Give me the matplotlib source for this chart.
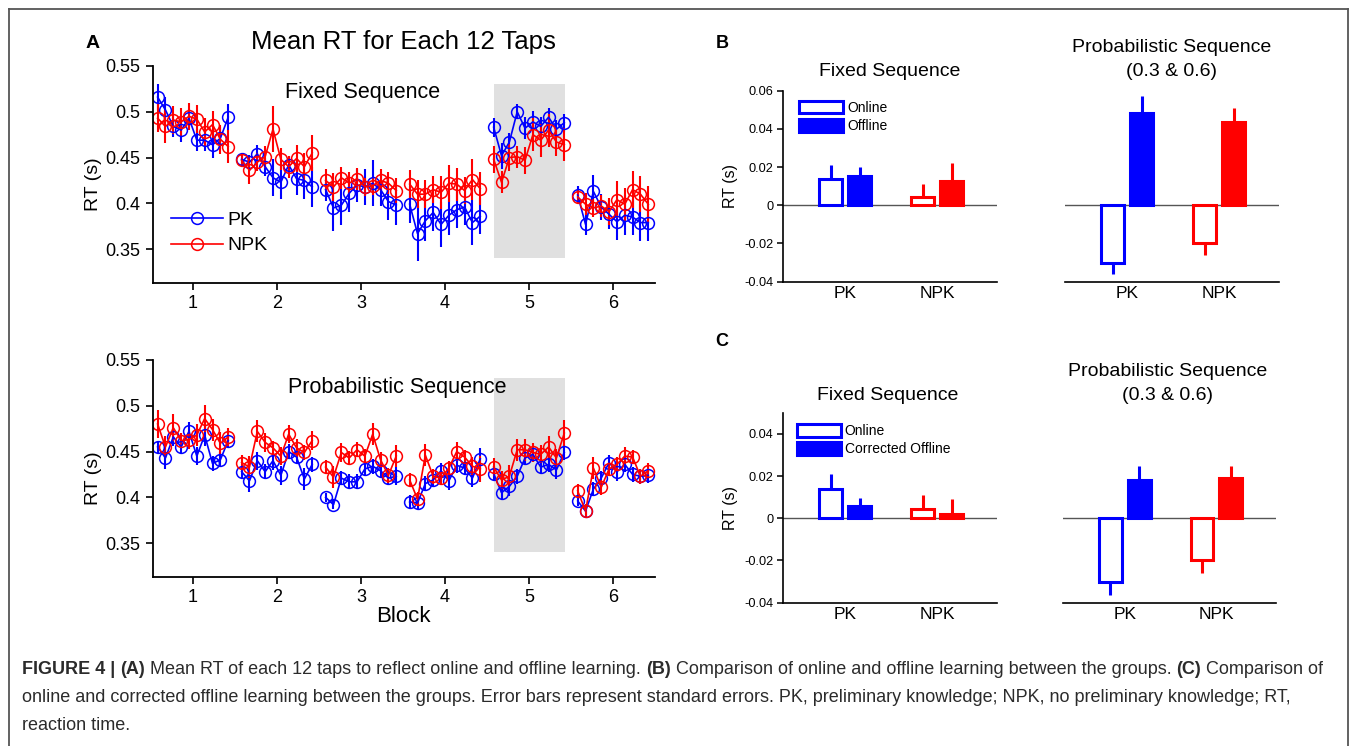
import numpy as np
import matplotlib.pyplot as plt
from matplotlib.lines import Line2D
from matplotlib.patches import Patch

plt.rcParams['font.family'] = ['Liberation Sans', 'DejaVu Sans']

# ---- data: panel A (mean RT per 12 taps, 10 points per block) ----
blocks = [1, 2, 3, 4, 5, 6]
taps_per_block = 10

fixed_pk = [0.516, 0.502, 0.484, 0.480, 0.493, 0.469, 0.469, 0.464, 0.471, 0.494,
            0.448, 0.445, 0.454, 0.440, 0.428, 0.423, 0.442, 0.427, 0.425, 0.418,
            0.415, 0.395, 0.398, 0.411, 0.420, 0.418, 0.422, 0.415, 0.402, 0.398,
            0.399, 0.367, 0.381, 0.390, 0.377, 0.387, 0.393, 0.396, 0.379, 0.386,
            0.483, 0.452, 0.467, 0.500, 0.482, 0.489, 0.484, 0.494, 0.481, 0.488,
            0.409, 0.377, 0.413, 0.396, 0.388, 0.380, 0.387, 0.385, 0.379, 0.379]
fixed_pk_se = [0.014, 0.014, 0.012, 0.013, 0.010, 0.012, 0.012, 0.014, 0.012, 0.014,
               0.006, 0.008, 0.010, 0.010, 0.020, 0.018, 0.010, 0.018, 0.020, 0.022,
               0.012, 0.025, 0.022, 0.020, 0.018, 0.020, 0.025, 0.018, 0.020, 0.022,
               0.020, 0.030, 0.022, 0.020, 0.025, 0.022, 0.020, 0.020, 0.025, 0.020,
               0.010, 0.014, 0.010, 0.008, 0.012, 0.012, 0.010, 0.010, 0.010, 0.010,
               0.010, 0.012, 0.018, 0.014, 0.016, 0.020, 0.022, 0.020, 0.020, 0.020]
fixed_npk = [0.493, 0.484, 0.491, 0.489, 0.495, 0.492, 0.478, 0.486, 0.470, 0.462,
             0.447, 0.436, 0.445, 0.451, 0.481, 0.448, 0.440, 0.449, 0.440, 0.455,
             0.425, 0.418, 0.428, 0.422, 0.427, 0.418, 0.419, 0.425, 0.422, 0.414,
             0.421, 0.410, 0.410, 0.415, 0.412, 0.422, 0.421, 0.414, 0.426, 0.416,
             0.448, 0.423, 0.450, 0.451, 0.447, 0.475, 0.469, 0.480, 0.467, 0.464,
             0.407, 0.399, 0.395, 0.397, 0.391, 0.404, 0.399, 0.415, 0.410, 0.399]
fixed_npk_se = [0.015, 0.018, 0.015, 0.015, 0.015, 0.015, 0.015, 0.015, 0.016, 0.018,
                0.006, 0.015, 0.010, 0.012, 0.025, 0.012, 0.012, 0.015, 0.015, 0.020,
                0.012, 0.015, 0.012, 0.012, 0.012, 0.010, 0.010, 0.012, 0.012, 0.014,
                0.015, 0.015, 0.015, 0.015, 0.018, 0.020, 0.018, 0.015, 0.022, 0.018,
                0.015, 0.012, 0.015, 0.012, 0.015, 0.018, 0.018, 0.018, 0.015, 0.018,
                0.008, 0.012, 0.010, 0.012, 0.015, 0.020, 0.018, 0.020, 0.020, 0.020]

prob_pk = [0.455, 0.443, 0.466, 0.455, 0.472, 0.445, 0.468, 0.437, 0.441, 0.462,
           0.428, 0.418, 0.440, 0.428, 0.440, 0.424, 0.450, 0.444, 0.420, 0.436,
           0.400, 0.392, 0.421, 0.417, 0.417, 0.431, 0.434, 0.429, 0.421, 0.423,
           0.395, 0.394, 0.415, 0.419, 0.429, 0.418, 0.435, 0.432, 0.421, 0.442,
           0.426, 0.405, 0.412, 0.423, 0.443, 0.447, 0.433, 0.436, 0.430, 0.449,
           0.396, 0.385, 0.409, 0.421, 0.438, 0.428, 0.436, 0.425, 0.423, 0.424]
prob_pk_se = [0.007, 0.012, 0.010, 0.008, 0.010, 0.010, 0.012, 0.008, 0.008, 0.008,
              0.008, 0.012, 0.010, 0.008, 0.010, 0.010, 0.008, 0.008, 0.012, 0.008,
              0.005, 0.005, 0.008, 0.008, 0.008, 0.008, 0.008, 0.008, 0.008, 0.010,
              0.008, 0.008, 0.008, 0.008, 0.008, 0.010, 0.008, 0.008, 0.010, 0.012,
              0.008, 0.008, 0.010, 0.008, 0.008, 0.008, 0.008, 0.008, 0.010, 0.008,
              0.006, 0.006, 0.008, 0.008, 0.008, 0.010, 0.008, 0.008, 0.008, 0.008]
prob_npk = [0.480, 0.455, 0.476, 0.462, 0.463, 0.468, 0.486, 0.474, 0.459, 0.466,
            0.438, 0.433, 0.472, 0.460, 0.454, 0.445, 0.469, 0.454, 0.449, 0.462,
            0.433, 0.422, 0.449, 0.443, 0.452, 0.445, 0.469, 0.441, 0.424, 0.445,
            0.419, 0.398, 0.446, 0.423, 0.421, 0.432, 0.450, 0.444, 0.434, 0.431,
            0.433, 0.419, 0.423, 0.452, 0.452, 0.449, 0.447, 0.455, 0.443, 0.470,
            0.407, 0.385, 0.432, 0.411, 0.431, 0.436, 0.445, 0.444, 0.423, 0.429]
prob_npk_se = [0.015, 0.012, 0.015, 0.008, 0.010, 0.012, 0.015, 0.012, 0.012, 0.010,
               0.008, 0.012, 0.012, 0.010, 0.008, 0.010, 0.010, 0.010, 0.008, 0.010,
               0.008, 0.012, 0.010, 0.008, 0.008, 0.008, 0.012, 0.008, 0.008, 0.012,
               0.008, 0.008, 0.012, 0.008, 0.008, 0.008, 0.010, 0.008, 0.010, 0.014,
               0.010, 0.010, 0.012, 0.012, 0.012, 0.010, 0.010, 0.012, 0.010, 0.014,
               0.008, 0.008, 0.012, 0.008, 0.008, 0.008, 0.010, 0.008, 0.008, 0.008]

rt_ticks = [0.35, 0.4, 0.45, 0.5, 0.55]
rt_ticklabels = ['0.35', '0.4', '0.45', '0.5', '0.55']
offline_block = 5

# ---- data: panels B and C (online / offline learning) ----
groups = ['PK', 'NPK']
fixed_online = [0.0139, 0.0044]
fixed_online_se = [0.0071, 0.0066]
fixed_offline = [0.0155, 0.0127]
fixed_offline_se = [0.0047, 0.0096]
prob_online = [-0.0300, -0.0198]
prob_online_se = [0.0062, 0.0061]
prob_offline = [0.0485, 0.0435]
prob_offline_se = [0.0089, 0.0073]
fixed_corr_offline = [0.0058, 0.0020]
fixed_corr_offline_se = [0.0036, 0.0071]
prob_corr_offline = [0.0180, 0.0191]
prob_corr_offline_se = [0.0066, 0.0055]

b_ticks = [-0.04, -0.02, 0, 0.02, 0.04, 0.06]
b_ticklabels = ['-0.04', '-0.02', '0', '0.02', '0.04', '0.06']
c_ticks = [-0.04, -0.02, 0, 0.02, 0.04]
c_ticklabels = ['-0.04', '-0.02', '0', '0.02', '0.04']

BLUE = '#0000ff'
RED = '#ff0000'
group_colors = [BLUE, RED]

W, H = 1356, 746
fig = plt.figure(figsize=(W / 100, H / 100), dpi=100)


def box(l, t, r, b):
    return [l / W, 1 - b / H, (r - l) / W, (b - t) / H]


def ftext(x, y, s, **kw):
    kw.setdefault('ha', 'center')
    kw.setdefault('va', 'center')
    return fig.text(x / W, 1 - y / H, s, **kw)


# frame around the figure
for xs, ys in [((9, 1348), (9, 9)), ((9, 9), (9, 746)), ((1348, 1348), (9, 746))]:
    fig.add_artist(Line2D([x / W for x in xs], [1 - y / H for y in ys],
                          color='#555555', lw=1.3))

# ---- panel A ----
offs = np.linspace(-0.42, 0.42, taps_per_block)


def draw_rt(ax, pk, pk_se, npk, npk_se):
    ax.fill_between([offline_block - 0.42, offline_block + 0.43], 0.34, 0.53,
                    color='#e0e0e0', lw=0, zorder=0)
    for vals, se, c in [(pk, pk_se, BLUE), (npk, npk_se, RED)]:
        for i, b in enumerate(blocks):
            sl = slice(i * taps_per_block, (i + 1) * taps_per_block)
            ax.errorbar(b + offs, vals[sl], yerr=se[sl], color=c, marker='o',
                        mfc='none', mec=c, ms=8.5, mew=1.1, lw=1.2,
                        elinewidth=1.5, capsize=0, zorder=2)
    ax.set_xlim(0.525, 6.5)
    ax.set_ylim(0.313, 0.55)
    ax.set_xticks(blocks)
    ax.set_yticks(rt_ticks)
    ax.set_yticklabels(rt_ticklabels)
    for s in ['top', 'right']:
        ax.spines[s].set_visible(False)
    for s in ['left', 'bottom']:
        ax.spines[s].set_linewidth(1.3)
    ax.tick_params(direction='out', length=5, width=1.2, labelsize=13, pad=4)


axA1 = fig.add_axes(box(153, 66, 655, 283))
draw_rt(axA1, fixed_pk, fixed_pk_se, fixed_npk, fixed_npk_se)
axA1.text(0.418, 0.876, 'Fixed Sequence', transform=axA1.transAxes,
          ha='center', va='center', fontsize=15.5)
leg_handles = [Line2D([], [], color=BLUE, marker='o', mfc='none', ms=8.5, mew=1.1, lw=1.2),
               Line2D([], [], color=RED, marker='o', mfc='none', ms=8.5, mew=1.1, lw=1.2)]
axA1.legend(leg_handles, groups, loc='upper left', bbox_to_anchor=(0.035, 0.33),
            frameon=False, fontsize=14, handlelength=2.7, handletextpad=0.2,
            labelspacing=0.4, borderpad=0, borderaxespad=0)

axA2 = fig.add_axes(box(153, 360, 655, 577))
draw_rt(axA2, prob_pk, prob_pk_se, prob_npk, prob_npk_se)
axA2.text(0.486, 0.871, 'Probabilistic Sequence', transform=axA2.transAxes,
          ha='center', va='center', fontsize=15.5)

ftext(93, 43, 'A', fontsize=14, fontweight='bold')
ftext(403, 42, 'Mean RT for Each 12 Taps', fontsize=18.5)
ftext(93, 184, 'RT (s)', fontsize=14, rotation=90)
ftext(93, 478, 'RT (s)', fontsize=14, rotation=90)
ftext(403, 617, 'Block', fontsize=16)


# ---- panels B and C ----
def draw_bars(ax, online, online_se, offline, offline_se, ylim, left):
    x = np.arange(1, len(groups) + 1)
    ax.axhline(0, color='#555555', lw=1.0, zorder=0.5)
    for i, c in enumerate(group_colors):
        for v, se, dx, filled in [(online[i], online_se[i], -0.157, False),
                                  (offline[i], offline_se[i], 0.157, True)]:
            ax.bar(x[i] + dx, v, width=0.25, facecolor=c if filled else 'white',
                   edgecolor=c, lw=2.2, zorder=2)
            lo = se if v < 0 else 0
            hi = se if v >= 0 else 0
            ax.errorbar(x[i] + dx, v, yerr=[[lo], [hi]], fmt='none', ecolor=c,
                        elinewidth=2.2, capsize=0, zorder=1.5)
    ax.set_xlim(0.326, 2.65)
    ax.set_ylim(*ylim)
    ax.set_xticks(x)
    ax.set_xticklabels(groups)
    for s in ['top', 'right']:
        ax.spines[s].set_visible(False)
    ax.spines['bottom'].set_linewidth(1.2)
    ax.tick_params(axis='x', length=0, labelsize=12.5, pad=3)
    if left:
        ax.spines['left'].set_linewidth(1.2)
        ax.tick_params(axis='y', direction='out', length=4, width=1.1,
                       labelsize=9.2, pad=3)
    else:
        ax.spines['left'].set_visible(False)
        ax.set_yticks([])


def bar_legend(ax, labels, anchor):
    handles = [Patch(facecolor='white', edgecolor=BLUE, lw=2.2),
               Patch(facecolor=BLUE, edgecolor=BLUE, lw=2.2)]
    ax.legend(handles, labels, loc='upper left', bbox_to_anchor=anchor,
              frameon=False, fontsize=10, handlelength=3.2, handleheight=1.0,
              handletextpad=0.25, labelspacing=0.3, borderpad=0, borderaxespad=0)


axB1 = fig.add_axes(box(783, 90.7, 997, 281.7))
draw_bars(axB1, fixed_online, fixed_online_se, fixed_offline, fixed_offline_se,
          (-0.04, 0.06), True)
axB1.set_yticks(b_ticks)
axB1.set_yticklabels(b_ticklabels)
bar_legend(axB1, ['Online', 'Offline'], (0.075, 0.946))

axB2 = fig.add_axes(box(1065, 90.7, 1279, 281.7))
draw_bars(axB2, prob_online, prob_online_se, prob_offline, prob_offline_se,
          (-0.04, 0.06), False)

axC1 = fig.add_axes(box(783, 412.7, 997, 602.7))
draw_bars(axC1, fixed_online, fixed_online_se, fixed_corr_offline,
          fixed_corr_offline_se, (-0.04, 0.05), True)
axC1.set_yticks(c_ticks)
axC1.set_yticklabels(c_ticklabels)
bar_legend(axC1, ['Online', 'Corrected Offline'], (0.065, 0.94))

axC2 = fig.add_axes(box(1063, 412.7, 1276, 602.7))
draw_bars(axC2, prob_online, prob_online_se, prob_corr_offline,
          prob_corr_offline_se, (-0.04, 0.05), False)

ftext(722, 44, 'B', fontsize=13, fontweight='bold')
ftext(722, 342, 'C', fontsize=13, fontweight='bold')
ftext(890, 72, 'Fixed Sequence', fontsize=14)
ftext(1172, 48, 'Probabilistic Sequence', fontsize=14)
ftext(1172, 72, '(0.3 & 0.6)', fontsize=14)
ftext(888, 395, 'Fixed Sequence', fontsize=14)
ftext(1168, 372, 'Probabilistic Sequence', fontsize=14)
ftext(1168, 395, '(0.3 & 0.6)', fontsize=14)
ftext(730, 186, 'RT (s)', fontsize=11.5, rotation=90)
ftext(730, 508, 'RT (s)', fontsize=11.5, rotation=90)

# ---- caption ----
cap_lines = [
    [('FIGURE 4 |', True), ('(A)', True),
     ('Mean RT of each 12 taps to reflect online and offline learning.', False),
     ('(B)', True), ('Comparison of online and offline learning between the groups.', False),
     ('(C)', True), ('Comparison of', False)],
    [('online and corrected offline learning between the groups. Error bars represent '
      'standard errors. PK, preliminary knowledge; NPK, no preliminary knowledge; RT,', False)],
    [('reaction time.', False)],
]
cap_y = [669, 697, 725]
cap_size = 13
renderer = fig.canvas.get_renderer()
space_px = 0.278 * cap_size * 100 / 72
for parts, y in zip(cap_lines, cap_y):
    x = 22
    for s, bold in parts:
        t = ftext(x, y, s, ha='left', fontsize=cap_size, color='#2b2b2b',
                  fontweight='bold' if bold else 'normal')
        bb = t.get_window_extent(renderer=renderer)
        x = bb.x1 + space_px

fig.savefig('out.png', dpi=100)
